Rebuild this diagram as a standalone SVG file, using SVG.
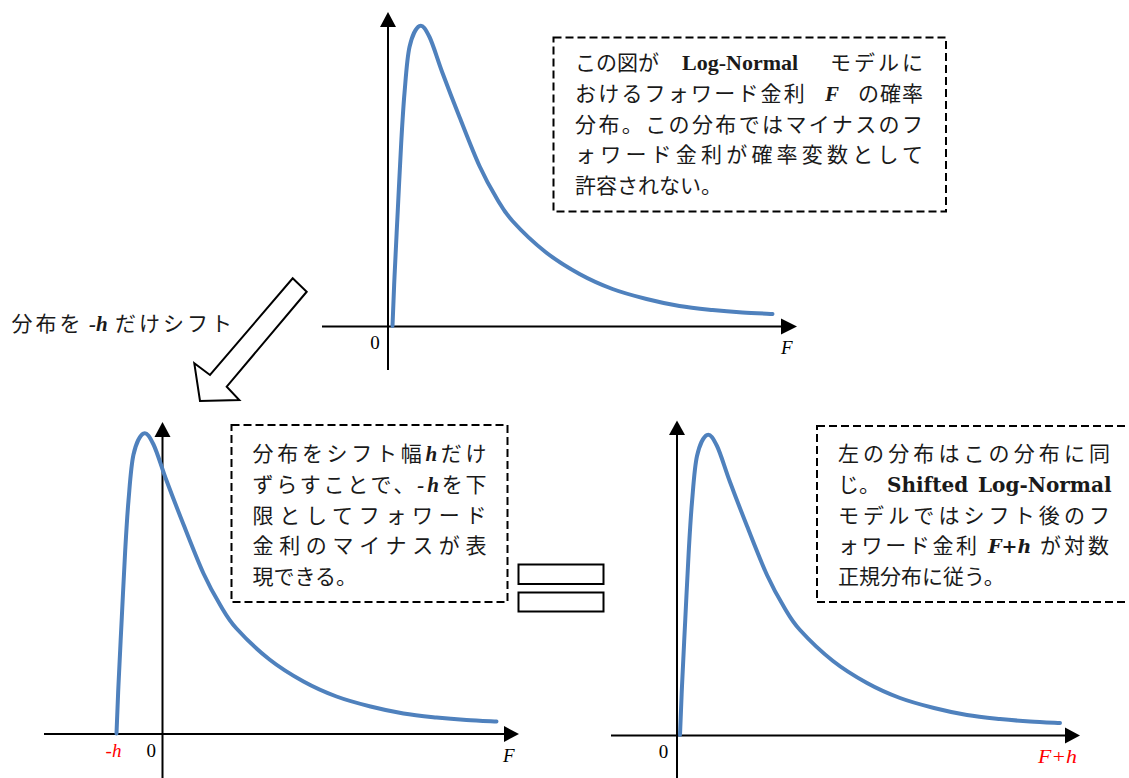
<svg xmlns="http://www.w3.org/2000/svg" xmlns:xlink="http://www.w3.org/1999/xlink" width="1129" height="778" viewBox="0 0 1129 778">
<style>
.axis{stroke:#000;stroke-width:2;fill:none}
.ahead{fill:#000;stroke:none}
.pdf{fill:none;stroke:#4F81BD;stroke-width:4;stroke-linecap:round;stroke-linejoin:round}
.note{fill:#fff;stroke:#000;stroke-width:2;stroke-dasharray:8 4}
.jp{font-family:'Liberation Serif','Noto Sans CJK JP',serif;font-size:21px;fill:#1a1a1a}
.lat{font-family:'Liberation Serif',serif;font-weight:bold;font-size:22px}
.bi{font-family:'Liberation Serif',serif;font-weight:bold;font-style:italic}
.dvb{font-family:'DejaVu Serif',serif;font-weight:bold;font-size:20px}
.dvbi{font-family:'DejaVu Serif',serif;font-weight:bold;font-style:italic;font-size:19px}
.lbl{font-family:'Liberation Serif',serif;font-size:19px;fill:#000}
.it{font-style:italic}
.red{fill:#ff0000}
.bigarrow{fill:#fff;stroke:#000;stroke-width:2;stroke-linejoin:miter}
.eq{fill:#fff;stroke:#000;stroke-width:2}
</style>
<defs>
<path id="curve" d="M0,0 C0.33,-8.17 1.12,-29.67 2,-49 C2.88,-68.33 4.18,-93.67 5.3,-116 C6.42,-138.33 7.58,-163.5 8.7,-183 C9.82,-202.5 10.62,-217 12,-233 C13.38,-249 14.5,-267.83 17,-279 C19.5,-290.17 23.67,-298.33 27,-300 C30.33,-301.67 33.17,-296.83 37,-289 C40.83,-281.17 45,-266.33 50,-253 C55,-239.67 60.83,-224.5 67,-209 C73.17,-193.5 80.83,-173.5 87,-160 C93.17,-146.5 98.5,-137.17 104,-128 C109.5,-118.83 111.83,-114 120,-105 C128.17,-96 141.83,-82.83 153,-74 C164.17,-65.17 175.83,-58.17 187,-52 C198.17,-45.83 208.83,-41.17 220,-37 C231.17,-32.83 242.83,-29.83 254,-27 C265.17,-24.17 276,-21.83 287,-20 C298,-18.17 309.5,-17.08 320,-16 C330.5,-14.92 340,-14.17 350,-13.5 C360,-12.83 375,-12.25 380,-12"/>
</defs>
<rect width="1129" height="778" fill="#fff"/>

<g id="graph-top">
<line class="axis" x1="388" y1="370" x2="388" y2="26"/>
<polygon class="ahead" points="380,27 396,27 388,12"/>
<line class="axis" x1="322" y1="326.5" x2="782" y2="326.5"/>
<polygon class="ahead" points="781,318.5 781,334.5 797,326.5"/>
<use xlink:href="#curve" class="pdf" transform="translate(392.5,326)"/>
<text class="lbl" x="375" y="348.5" text-anchor="middle">0</text>
<text class="lbl it" x="781" y="353.5">F</text>
</g>

<g id="note-top">
<rect class="note" x="553.5" y="37.5" width="392.5" height="174"/>
<text class="jp" y="70"><tspan x="575">この図が</tspan><tspan x="682" class="lat">Log-Normal</tspan><tspan x="830" letter-spacing="3">モデルに</tspan></text>
<text class="jp" y="100.75"><tspan x="575" letter-spacing="2.2">おけるフォワード金利</tspan><tspan x="825" class="bi">F</tspan><tspan x="858" letter-spacing="1">の確率</tspan></text>
<text class="jp" x="575" y="131.5" textLength="348" lengthAdjust="spacing">分布。この分布ではマイナスのフ</text>
<text class="jp" x="575" y="162.25" textLength="348" lengthAdjust="spacing">ォワード金利が確率変数として</text>
<text class="jp" x="575" y="193">許容されない。</text>
</g>

<g id="connectors">
<polygon class="bigarrow" points="292.7,278.3 306.7,291.7 226.7,386.7 239.3,400 200,401 194.3,363.3 210,375"/>
</g>

<g id="shift-label">
<text class="jp" y="330.5"><tspan x="11.5" letter-spacing="3">分布を</tspan><tspan x="89" class="bi">-h</tspan><tspan x="115" letter-spacing="3">だけシフト</tspan></text>
</g>

<g id="graph-bottom-left">
<line class="axis" x1="162.5" y1="778" x2="162.5" y2="436"/>
<polygon class="ahead" points="154.5,437 170.5,437 162.5,422"/>
<line class="axis" x1="44" y1="734" x2="505" y2="734"/>
<polygon class="ahead" points="504,726 504,742 519,734"/>
<use xlink:href="#curve" class="pdf" transform="translate(116.5,733.5)"/>
<text class="lbl it red" x="113.5" y="756.5" text-anchor="middle">-h</text>
<text class="lbl" x="151.3" y="756.5" text-anchor="middle">0</text>
<text class="lbl it" x="503" y="761.5">F</text>
</g>

<g id="note-bottom-left">
<rect class="note" x="231.5" y="425" width="276" height="177"/>
<text class="jp" x="252.5" y="461" textLength="234" lengthAdjust="spacing">分布をシフト幅<tspan class="bi">h</tspan>だけ</text>
<text class="jp" x="252.5" y="491.75" textLength="234" lengthAdjust="spacing">ずらすことで、<tspan class="bi">-h</tspan>を下</text>
<text class="jp" x="252.5" y="522.5" textLength="234" lengthAdjust="spacing">限としてフォワード</text>
<text class="jp" x="252.5" y="553.25" textLength="234" lengthAdjust="spacing">金利のマイナスが表</text>
<text class="jp" x="252.5" y="584">現できる。</text>
</g>

<g id="equals-sign">
<rect class="eq" x="518.5" y="564.5" width="85" height="19.5"/>
<rect class="eq" x="518.5" y="592.5" width="85" height="19"/>
</g>

<g id="graph-bottom-right">
<line class="axis" x1="677" y1="778" x2="677" y2="434"/>
<polygon class="ahead" points="669,435 685,435 677,420.5"/>
<line class="axis" x1="611" y1="735.5" x2="1066" y2="735.5"/>
<polygon class="ahead" points="1065,727.5 1065,743.5 1080,735.5"/>
<use xlink:href="#curve" class="pdf" transform="translate(680,735)"/>
<text class="lbl" x="663.5" y="758" text-anchor="middle">0</text>
<text class="lbl it red" x="1038" y="762.5" textLength="39" lengthAdjust="spacingAndGlyphs">F+h</text>
</g>

<g id="note-bottom-right">
<rect class="note" x="817" y="426" width="330" height="176"/>
<text class="jp" x="838" y="461" textLength="272" lengthAdjust="spacing">左の分布はこの分布に同</text>
<text class="jp" y="491.75"><tspan x="838">じ。</tspan><tspan x="887" class="dvb">Shifted</tspan><tspan x="978" class="dvb">Log-Normal</tspan></text>
<text class="jp" x="838" y="522.5" textLength="272" lengthAdjust="spacing">モデルではシフト後のフ</text>
<text class="jp" y="553.25"><tspan x="838" letter-spacing="2.6">ォワード金利</tspan><tspan x="988" class="dvbi">F+h</tspan><tspan x="1040" letter-spacing="3">が対数</tspan></text>
<text class="jp" x="838" y="584">正規分布に従う。</text>
</g>
</svg>
